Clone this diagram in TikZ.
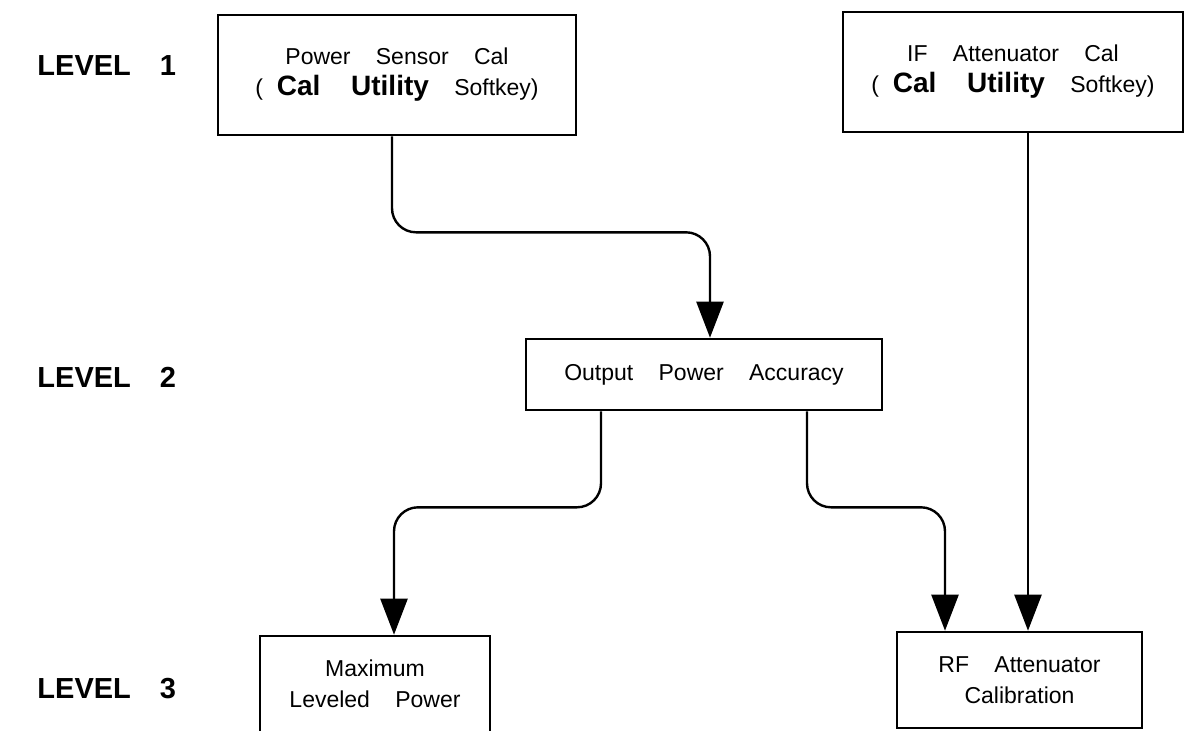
\documentclass[tikz,border=0pt]{standalone}
\usepackage{fontspec}
\setmainfont{Liberation Sans}
\usetikzlibrary{arrows.meta}

\newcommand{\wgap}{\hspace{1.1em}}
\newcommand{\calkey}{{\fontsize{14}{16}\selectfont\bfseries Cal\wgap Utility}}

\begin{document}
\begin{tikzpicture}[x=0.5pt, y=-0.5pt,
					thick,
					box/.style={draw, line width=1.3pt, align=center, inner sep=0pt,
						font=\fontsize{11.5}{15.5}\selectfont},
					flow/.style={line width=1.2pt, rounded corners=12pt,
						-{Triangle[width=13.5pt,length=18pt]}},
					level/.style={anchor=west, font=\fontsize{14.5}{16}\selectfont\bfseries}]

  \useasboundingbox (0,0) rectangle (1194,730);
  \clip (0,0) rectangle (1194,730);

  % level labels
  \node[level] (L1) at (30,66)  {LEVEL\hspace{1em}1};
  \node[level] (L2) at (30,377) {LEVEL\hspace{1em}2};
  \node[level] (L3) at (30,689) {LEVEL\hspace{1em}3};

  % boxes
  \node[box, minimum width=179pt, minimum height=60pt] (PSC) at (397,75)
    {Power\wgap Sensor\wgap Cal\\ (\hspace{0.6em}\calkey\wgap Softkey)};
  \node[box, minimum width=170pt, minimum height=60pt] (IFA) at (1013,72)
    {IF\wgap Attenuator\wgap Cal\\ (\hspace{0.6em}\calkey\wgap Softkey)};
  \node[box, minimum width=178pt, minimum height=35.5pt] (OPA) at (704,374.5)
    {Output\wgap Power\wgap Accuracy};
  \node[box, minimum width=115pt, minimum height=48pt] (MLP) at (375,684)
    {Maximum\\ Leveled\wgap Power};
  \node[box, minimum width=122.5pt, minimum height=48pt] (RFA) at (1019.5,680)
    {RF\wgap Attenuator\\ Calibration};

  % connectors
  \draw[flow] ([xshift=-2.5pt]PSC.south) -- ++(0,96) -| ([xshift=3pt]OPA.north);
  \draw[flow] ([xshift=-51.5pt]OPA.south) -- ++(0,96) -| ([xshift=9.5pt]MLP.north);
  \draw[flow] ([xshift=51.5pt]OPA.south) -- ++(0,96) -| ([xshift=-37.25pt]RFA.north);
  \draw[flow] ([xshift=7.5pt]IFA.south) -- ([xshift=7.5pt]IFA.south |- RFA.north);
\end{tikzpicture}
\end{document}
